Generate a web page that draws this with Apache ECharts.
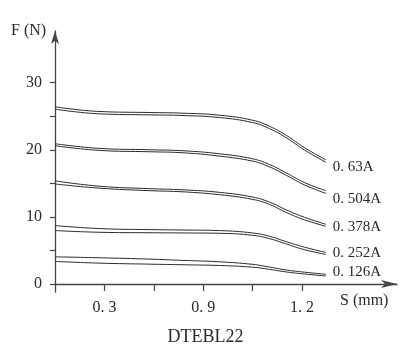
<!DOCTYPE html>
<html><head><meta charset="utf-8">
<script src="https://cdn.jsdelivr.net/npm/echarts@6/dist/echarts.min.js"></script>
<style>html,body{margin:0;padding:0;background:#fff}#c{width:411px;height:362px}</style>
</head><body><div id="c"></div>
<script>
// x positions in tick units (tick 1 = "0. 3", tick 3 = "0. 9", tick 5 = "1. 2")
const xPos = [0, 0.91, 1.92, 2.59, 3.33, 4.0, 4.34, 4.69, 5.05, 5.48];
const xTickLabels = ['', '0. 3', '', '0. 9', '', '1. 2'];
const yTickLabels = [0, 10, 20, 30];
const currents = ['0. 63A', '0. 504A', '0. 378A', '0. 252A', '0. 126A'];

const upper063 = [26.4, 25.7, 25.55, 25.45, 25.15, 24.4, 23.5, 22.1, 20.3, 18.5];
const lower063 = [26.05, 25.35, 25.2, 25.1, 24.8, 24.05, 23.15, 21.75, 19.95, 18.15];
const upper0504 = [20.9, 20.2, 20.0, 19.85, 19.4, 18.65, 17.8, 16.5, 15.1, 13.9];
const lower0504 = [20.6, 19.9, 19.7, 19.55, 19.05, 18.3, 17.45, 16.15, 14.75, 13.5];
const upper0378 = [15.36, 14.56, 14.2, 14.03, 13.65, 12.95, 12.2, 11.0, 9.93, 8.9];
const lower0378 = [14.9, 14.27, 13.9, 13.73, 13.3, 12.6, 11.85, 10.62, 9.55, 8.6];
const upper0252 = [8.7, 8.25, 8.1, 8.04, 7.95, 7.6, 7.1, 6.27, 5.48, 4.7];
const lower0252 = [7.96, 7.7, 7.63, 7.6, 7.55, 7.25, 6.75, 5.93, 5.1, 4.4];
const upper0126 = [4.04, 3.9, 3.7, 3.51, 3.3, 2.92, 2.52, 2.07, 1.75, 1.44];
const lower0126 = [3.36, 3.1, 2.95, 2.86, 2.75, 2.5, 2.17, 1.78, 1.48, 1.19];

const pairs = [
  [upper063, lower063], [upper0504, lower0504], [upper0378, lower0378],
  [upper0252, lower0252], [upper0126, lower0126]
];
const labelOffsets = [[2, 4.5], [2, 6], [2, 1], [2, -1], [2, -4]];
const FONT = 'Liberation Serif';

const series = [];
pairs.forEach((p, i) => {
  p.forEach((arr, j) => {
    const s = {
      type: 'line',
      data: arr.map((v, k) => [xPos[k], v]),
      symbol: 'none',
      smooth: 0.45,
      lineStyle: { color: '#2a2a2a', width: 1 },
      silent: true,
      z: 3
    };
    if (j === 1) {
      s.endLabel = {
        show: true,
        formatter: currents[i],
        offset: labelOffsets[i],
        distance: 5,
        fontFamily: FONT,
        fontSize: 15,
        color: '#2a2a2a'
      };
    }
    series.push(s);
  });
});

const chart = echarts.init(document.getElementById('c'));
chart.setOption({
  animation: false,
  backgroundColor: '#fff',
  grid: { left: 55, right: 14, top: 31, bottom: 70, containLabel: false },
  xAxis: {
    type: 'value', min: 0, max: 6.92,
    axisLine: { show: true, onZero: true, symbol: ['none', 'arrow'], symbolSize: [6, 16],
      lineStyle: { color: '#444', width: 1.3 } },
    axisTick: { show: true, customValues: [1, 2, 3, 4, 5], length: 7, lineStyle: { color: '#444', width: 1.2 } },
    axisLabel: { customValues: [1, 3, 5], formatter: v => xTickLabels[Math.round(v)],
      margin: 8, fontFamily: FONT, fontSize: 16, color: '#2a2a2a' },
    splitLine: { show: false }
  },
  yAxis: {
    type: 'value', min: -1.2, max: 37.7,
    axisLine: { show: true, symbol: ['none', 'arrow'], symbolSize: [6, 13],
      lineStyle: { color: '#444', width: 1.3 } },
    axisTick: { show: true, customValues: [0, 5, 10, 15, 20, 25, 30], length: 5, lineStyle: { color: '#444', width: 1.2 } },
    axisLabel: { customValues: yTickLabels, margin: 13, fontFamily: FONT, fontSize: 16, color: '#2a2a2a' },
    splitLine: { show: false }
  },
  graphic: [
    { type: 'text', left: 11, top: 23, style: { text: 'F (N)', font: '16px "Liberation Serif"', fill: '#2a2a2a' } },
    { type: 'text', left: 340, top: 293, style: { text: 'S (mm)', font: '16px "Liberation Serif"', fill: '#2a2a2a' } },
    { type: 'text', left: 'center', top: 328, style: { text: 'DTEBL22', font: '18px "Liberation Serif"', fill: '#2a2a2a' } }
  ],
  series: series
});
</script>
</body></html>
